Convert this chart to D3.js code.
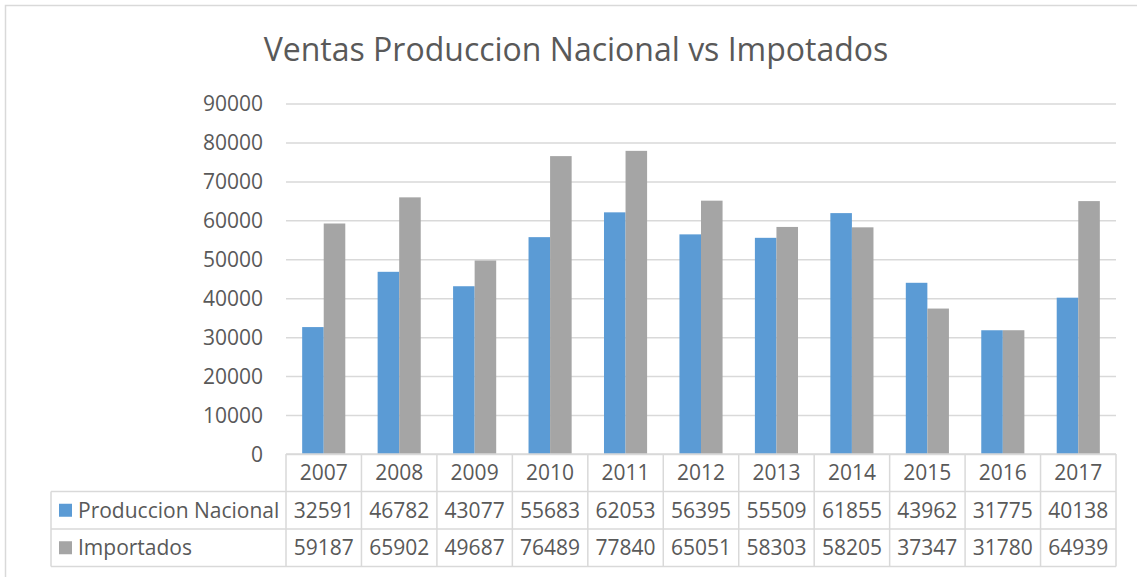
<!DOCTYPE html>
<html><head><meta charset="utf-8">
<script src="https://cdn.jsdelivr.net/npm/d3@7"></script>
<style>html,body{margin:0;padding:0;background:#fff;}svg{display:block;}</style>
</head><body><svg id="c" width="1137" height="577"></svg>
<script>
const title = "Ventas Produccion Nacional vs Impotados";
const years = ["2007","2008","2009","2010","2011","2012","2013","2014","2015","2016","2017"];
const seriesNames = ["Produccion Nacional","Importados"];
const produccion = [32591,46782,43077,55683,62053,56395,55509,61855,43962,31775,40138];
const importados = [59187,65902,49687,76489,77840,65051,58303,58205,37347,31780,64939];
const yTicks = [0,10000,20000,30000,40000,50000,60000,70000,80000,90000];
const colors = ["#5b9bd5","#a5a5a5"];

const svg = d3.select("#c");
const font = "'Open Sans', 'Noto Sans', sans-serif";
const txt = "#595959", grid = "#d9d9d9";
const L = 286, R = 1116, T = 103.5, B = 454;
const tableLeft = 51, rowH = 37.5;
const fs = 21;

svg.append("rect").attr("x",5.5).attr("y",5.5).attr("width",1140).attr("height",600)
  .attr("fill","#fff").attr("stroke",grid).attr("stroke-width",1.5);

svg.append("text").attr("x",576).attr("y",61).attr("text-anchor","middle")
  .attr("font-family",font).attr("font-size",32).attr("fill",txt).text(title);

const y = d3.scaleLinear().domain([0,90000]).range([B,T]);
const x = d3.scaleBand().domain(years).range([L,R]).paddingInner(0).paddingOuter(0);
const inner = d3.scaleBand().domain([0,1]).range([0,x.bandwidth()]).paddingOuter(0.75).paddingInner(0);

// gridlines
const yAxis = d3.axisLeft(y).tickValues(yTicks).tickSize(-(R-L)).tickFormat(d=>d);
const ga = svg.append("g").attr("transform",`translate(${L},0)`).call(yAxis);
ga.select(".domain").remove();
ga.selectAll(".tick line").attr("stroke",grid).attr("stroke-width",1.5);
ga.selectAll(".tick text").attr("x",-23).attr("dy","0.35em").attr("font-family",font)
  .attr("font-size",fs).attr("fill",txt);

// bars
const data = [produccion, importados];
data.forEach((vals,si)=>{
  svg.append("g").selectAll("rect").data(vals).join("rect")
    .attr("x",(d,i)=>x(years[i])+inner(si))
    .attr("width",inner.bandwidth())
    .attr("y",d=>y(d)).attr("height",d=>B-y(d))
    .attr("fill",colors[si]);
});

// data table
const tg = svg.append("g");
const lineAttr = s=>s.attr("stroke",grid).attr("stroke-width",1.5);
[B, B+rowH, B+2*rowH, B+3*rowH].forEach((yy,k)=>{
  lineAttr(tg.append("line").attr("x1",k===0?L:tableLeft).attr("x2",R).attr("y1",yy).attr("y2",yy));
});
years.forEach((yr,i)=>{
  lineAttr(tg.append("line").attr("x1",x(yr)).attr("x2",x(yr)).attr("y1",B).attr("y2",B+3*rowH));
});
lineAttr(tg.append("line").attr("x1",R).attr("x2",R).attr("y1",B).attr("y2",B+3*rowH));
lineAttr(tg.append("line").attr("x1",tableLeft).attr("x2",tableLeft).attr("y1",B+rowH).attr("y2",B+3*rowH));

years.forEach(yr=>{
  tg.append("text").attr("x",x(yr)+x.bandwidth()/2).attr("y",B+rowH/2).attr("dy","0.35em")
    .attr("text-anchor","middle").attr("font-family",font).attr("font-size",fs).attr("fill",txt).text(yr);
});
data.forEach((vals,si)=>{
  const cy = B+rowH*(si+1)+rowH/2;
  tg.append("rect").attr("x",59).attr("y",cy-6.5).attr("width",13).attr("height",13).attr("fill",colors[si]);
  tg.append("text").attr("x",78).attr("y",cy).attr("dy","0.35em").attr("font-family",font)
    .attr("font-size",fs).attr("fill",txt).text(seriesNames[si]);
  vals.forEach((v,i)=>{
    tg.append("text").attr("x",x(years[i])+x.bandwidth()/2).attr("y",cy).attr("dy","0.35em")
      .attr("text-anchor","middle").attr("font-family",font).attr("font-size",fs).attr("fill",txt).text(v);
  });
});
</script></body></html>
